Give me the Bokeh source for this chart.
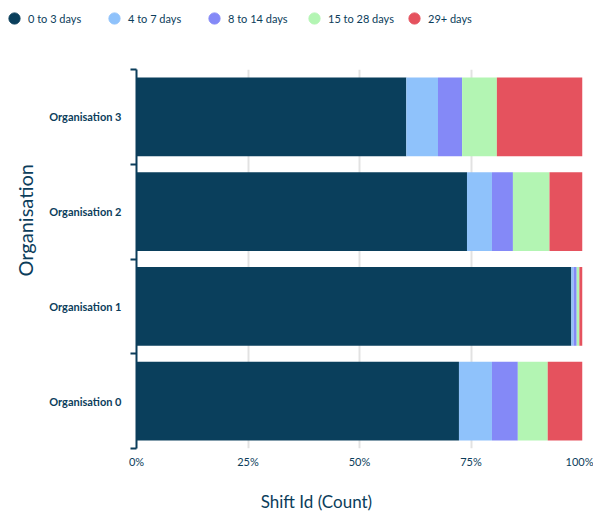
from bokeh.plotting import figure
from bokeh.models import (FactorRange, Range1d, LinearAxis, FixedTicker, Legend, LegendItem,
                          Title, Label, PrintfTickFormatter, ColumnDataSource)
from bokeh.embed import file_html
from bokeh.resources import INLINE

# ---- data ----
organisations = ["Organisation 0", "Organisation 1", "Organisation 2", "Organisation 3"]
buckets = ["0 to 3 days", "4 to 7 days", "8 to 14 days", "15 to 28 days", "29+ days"]
share_0_3 = [72.3, 97.5, 74.1, 60.5]
share_4_7 = [7.4, 0.5, 5.6, 7.1]
share_8_14 = [5.8, 0.7, 4.7, 5.4]
share_15_28 = [6.7, 0.6, 8.2, 7.8]
share_29p = [7.8, 0.7, 7.4, 19.2]
x_ticks = [0, 25, 50, 75, 100]

colors = ["#0A3F5C", "#8FC2FB", "#8489F7", "#B3F5B3", "#E5525E"]
TEXT = "#0B3D5B"
FONT = "Lato"

W = 593
LEG_H = 36     # legend strip
TITLE_H = 42   # x-axis title strip
LEFT = 134
RIGHT = 11

data = {"org": organisations}
for name, vals in zip(buckets, [share_0_3, share_4_7, share_8_14, share_15_28, share_29p]):
    data[name] = vals
source = ColumnDataSource(data)

x_range = Range1d(0, 100)
p = figure(width=W, height=512 - LEG_H - TITLE_H, y_range=FactorRange(*organisations), x_range=x_range,
           output_backend="svg", toolbar_location=None, y_axis_location=None,
           min_border_left=LEFT, min_border_right=RIGHT, min_border_top=69 - LEG_H, min_border_bottom=20)
p.outline_line_color = None
p.background_fill_color = "white"

p.hbar_stack(buckets, y="org", height=0.83, color=colors, line_color=None, source=source)

# x axis
xa = p.xaxis[0]
xa.ticker = FixedTicker(ticks=x_ticks)
xa.formatter = PrintfTickFormatter(format="%d%%")
xa.axis_line_color = None
xa.major_tick_line_color = None
xa.minor_tick_line_color = None
xa.major_tick_out = 0
xa.major_tick_in = 0
xa.major_label_standoff = 6
xa.major_label_text_font = FONT
xa.major_label_text_font_size = "11px"
xa.major_label_text_color = TEXT

p.xgrid.ticker = FixedTicker(ticks=x_ticks)
p.xgrid.grid_line_color = "#E2E2E2"
p.xgrid.grid_line_width = 2
p.ygrid.grid_line_color = None

# y axis: labels at band centres, ticks at band boundaries
n = len(organisations)
centres = [i + 0.5 for i in range(n)]
bounds = [float(i) for i in range(n + 1)]
ya = LinearAxis(ticker=FixedTicker(ticks=centres, minor_ticks=bounds),
                major_label_overrides={c: o for c, o in zip(centres, organisations)})
ya.axis_line_color = TEXT
ya.axis_line_width = 2
ya.major_tick_out = 0
ya.major_tick_in = 0
ya.major_tick_line_color = None
ya.minor_tick_out = 6
ya.minor_tick_in = 0
ya.minor_tick_line_color = TEXT
ya.minor_tick_line_width = 2
ya.major_label_standoff = 9
ya.major_label_text_font = FONT
ya.major_label_text_font_size = "11px"
ya.major_label_text_font_style = "bold"
ya.major_label_text_color = TEXT
p.add_layout(ya, "left")

# y-axis title
p.add_layout(Title(text="Organisation", align="left", offset=172, standoff=20,
                   text_font=FONT, text_font_size="20px", text_font_style="normal",
                   text_color=TEXT), "left")

# x-axis title strip
tf = figure(width=W, height=TITLE_H, output_backend="svg", toolbar_location=None,
            x_range=x_range, y_range=Range1d(0, 1),
            x_axis_location=None, y_axis_location=None,
            min_border_left=LEFT, min_border_right=RIGHT, min_border_top=0, min_border_bottom=0)
tf.outline_line_color = None
tf.xgrid.visible = False
tf.ygrid.visible = False
tf.add_layout(Label(x=40.6, y=0.27, text="Shift Id (Count)", text_align="center",
                    text_baseline="middle", text_font=FONT, text_font_size="17px",
                    text_color=TEXT))

# legend strip with circle markers
lf = figure(width=W, height=LEG_H, output_backend="svg", toolbar_location=None,
            x_range=Range1d(0, 1), y_range=Range1d(0, 1),
            x_axis_location=None, y_axis_location=None,
            min_border=0, min_border_left=0, min_border_right=0, min_border_top=0, min_border_bottom=0)
lf.outline_line_color = None
lf.xgrid.visible = False
lf.ygrid.visible = False
items = []
for name, c in zip(buckets, colors):
    r = lf.scatter(x=[-5], y=[-5], marker="circle", color=c)
    items.append(LegendItem(label=name, renderers=[r]))
legend = Legend(items=items, orientation="horizontal", location="center_left",
                glyph_width=28, glyph_height=28, label_standoff=-3, spacing=2, label_width=70,
                padding=0, margin=0, border_line_color=None, background_fill_alpha=0,
                label_text_font=FONT, label_text_font_size="11px", label_text_color=TEXT)
lf.add_layout(legend)

open("out.html", "w").write(file_html([lf, p, tf], INLINE))
